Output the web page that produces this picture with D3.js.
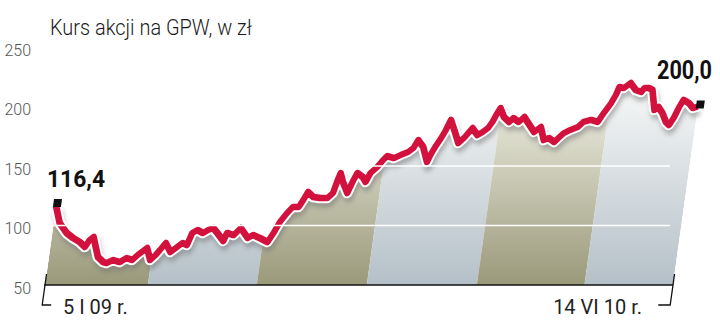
<!DOCTYPE html>
<html>
<head>
<meta charset="utf-8">
<script src="https://cdn.jsdelivr.net/npm/d3@7"></script>
<style>
  body { margin: 0; background: #fff; }
  svg { display: block; font-family: Roboto, 'Open Sans', sans-serif; }
</style>
</head>
<body>
<svg id="chart" width="720" height="325"></svg>
<script>
// GPW share price, 5 Jan 2009 - 14 Jun 2010
const startDate = new Date(2009, 0, 5);
const endDate = new Date(2010, 5, 14);
const dayOffsets = [0, 5, 12, 18, 24, 29, 32, 35, 41, 46,
    49, 54, 60, 65, 70, 74, 77, 81, 85, 89,
    92, 96, 101, 106, 110, 114, 117, 121, 126, 130,
    134, 138, 144, 146, 152, 157, 164, 168, 174, 181,
    185, 189, 194, 198, 203, 206, 209, 214, 220, 226,
    230, 232, 234, 237, 242, 245, 248, 253, 256, 259,
    264, 268, 271, 277, 282, 288, 292, 295, 300, 305,
    307, 310, 314, 317, 320, 324, 329, 333, 336, 339,
    344, 348, 352, 355, 358, 360, 364, 369, 372, 377,
    381, 385, 391, 396, 400, 404, 409, 412, 416, 421,
    427, 431, 437, 443, 447, 452, 455, 457, 461, 466,
    471, 476, 478, 482, 485, 489, 492, 496, 500, 503,
    506, 509, 512, 517, 521, 525];
const prices = [116.4, 102.1, 93.7, 89.5, 86.1, 81.9, 87.8, 90.3, 73.5, 69.3,
    68.5, 71.0, 69.3, 72.7, 71.0, 75.2, 77.7, 81.1, 71.0, 75.2,
    79.4, 85.3, 77.7, 81.9, 85.3, 83.6, 93.7, 96.2, 93.7, 96.2,
    97.9, 93.7, 87.0, 93.7, 92.0, 97.9, 89.5, 92.0, 89.5, 86.1,
    93.7, 102.9, 110.5, 115.5, 115.5, 121.4, 128.2, 124.0, 123.1, 123.1,
    127.3, 136.6, 144.1, 136.6, 127.3, 136.6, 144.1, 140.8, 136.6, 144.1,
    149.2, 155.0, 158.4, 156.7, 159.2, 161.8, 165.1, 171.8, 166.0, 153.4,
    159.2, 166.0, 173.5, 180.3, 188.7, 180.3, 169.3, 173.5, 177.7, 181.9,
    176.0, 178.6, 181.9, 187.0, 194.5, 198.7, 191.2, 187.0, 190.3, 187.0,
    191.2, 186.1, 178.6, 182.8, 171.8, 173.5, 170.2, 173.5, 177.7, 180.3,
    182.8, 187.0, 188.7, 187.0, 194.5, 202.9, 209.7, 216.4, 215.5, 219.7,
    213.9, 212.2, 215.5, 215.5, 213.9, 197.1, 199.6, 194.5, 187.0, 184.5,
    190.3, 198.7, 205.5, 202.9, 198.7, 200.0];
const yTicks = [50, 100, 150, 200, 250];
const gridValues = [100, 150];
const quarterStarts = ['2009-01-05', '2009-04-01', '2009-07-01', '2009-10-01', '2010-01-01', '2010-04-01'];
const quarterTypes = ['olive', 'blue', 'olive', 'blue', 'olive', 'blue'];
const firstLabel = '116,4';
const lastLabel = '200,0';
const startLabel = '5 I 09 r.';
const endLabel = '14 VI 10 r.';

const svg = d3.select('#chart');
const shear = 0.14;

const x = d3.scaleTime().domain([startDate, endDate]).range([45, 673]);
const y = d3.scaleLinear().domain([50, 250]).range([285, 47]);
const base = y(50);
const data = dayOffsets.map((d, i) => ({ date: d3.timeDay.offset(startDate, d), value: prices[i] }));

const defs = svg.append('defs');
const gradients = { olive: ['#9a997a', '#ecece0'], blue: ['#b4c0c8', '#f2f4f4'] };
Object.entries(gradients).forEach(([name, c]) => {
    const g = defs.append('linearGradient').attr('id', 'grad-' + name)
        .attr('gradientUnits', 'userSpaceOnUse')
        .attr('x1', 0).attr('y1', base).attr('x2', 0).attr('y2', 100);
    g.append('stop').attr('offset', 0).attr('stop-color', c[0]);
    g.append('stop').attr('offset', 1).attr('stop-color', c[1]);
});
defs.append('filter').attr('id', 'blur')
    .attr('x', '-10%').attr('y', '-20%').attr('width', '120%').attr('height', '140%')
    .append('feGaussianBlur').attr('stdDeviation', 2.5);

const area = d3.area().x(d => x(d.date)).y0(base).y1(d => y(d.value));
const line = d3.line().x(d => x(d.date)).y(d => y(d.value));

defs.append('clipPath').attr('id', 'area-clip')
    .append('path').attr('d', area(data));

// title
svg.append('text')
    .attr('x', 50).attr('y', 35)
    .attr('font-size', 22).attr('font-weight', 300).attr('fill', '#1a1a1a')
    .attr('textLength', 202).attr('lengthAdjust', 'spacingAndGlyphs')
    .text('Kurs akcji na GPW, w zł');

// y axis labels
const yAxis = svg.append('g')
    .attr('transform', 'translate(31,3)')
    .call(d3.axisLeft(y).tickValues(yTicks).tickSize(0).tickPadding(0));
yAxis.select('.domain').remove();
yAxis.selectAll('text')
    .attr('font-family', 'Roboto, sans-serif')
    .attr('font-size', 16).attr('font-weight', 300).attr('fill', '#555');

// sheared plot
const plot = svg.append('g')
    .attr('transform', `translate(${base * shear},0) skewX(${-Math.atan(shear) * 180 / Math.PI})`);

const bands = quarterStarts.map((s, i) => ({
    from: d3.timeParse('%Y-%m-%d')(s),
    to: i + 1 < quarterStarts.length ? d3.timeParse('%Y-%m-%d')(quarterStarts[i + 1]) : endDate,
    type: quarterTypes[i]
}));
plot.append('g').attr('clip-path', 'url(#area-clip)')
    .selectAll('rect')
    .data(bands)
    .join('rect')
    .attr('x', d => x(d.from))
    .attr('width', d => x(d.to) - x(d.from))
    .attr('y', y(250) - 20)
    .attr('height', base - y(250) + 20)
    .attr('fill', d => `url(#grad-${d.type})`);

// gridlines (straight, not sheared)
svg.append('g').selectAll('line')
    .data(gridValues)
    .join('line')
    .attr('x1', 50).attr('x2', 670)
    .attr('y1', d => y(d)).attr('y2', d => y(d))
    .attr('stroke', '#fff').attr('stroke-width', 1.6);

// baseline and end ticks
plot.append('line')
    .attr('x1', x(startDate) - 1).attr('x2', x(endDate))
    .attr('y1', base).attr('y2', base)
    .attr('stroke', '#111').attr('stroke-width', 1.5);
plot.append('path')
    .attr('d', `M${x(startDate)},${base - 11}V${base + 20}h9`)
    .attr('fill', 'none').attr('stroke', '#111').attr('stroke-width', 1.3);
plot.append('path')
    .attr('d', `M${x(endDate)},${base - 11}V${base + 20}h-12`)
    .attr('fill', 'none').attr('stroke', '#111').attr('stroke-width', 1.3);

// price line: shadow, white halo, red
plot.append('path')
    .attr('d', line(data))
    .attr('transform', 'translate(2,5)')
    .attr('fill', 'none').attr('stroke', '#6e6e6e').attr('stroke-opacity', 0.5)
    .attr('stroke-width', 9).attr('stroke-linejoin', 'round')
    .attr('filter', 'url(#blur)');
plot.append('path')
    .attr('d', line(data))
    .attr('fill', 'none').attr('stroke', '#fff')
    .attr('stroke-width', 10.5).attr('stroke-linejoin', 'round').attr('stroke-linecap', 'round');
plot.append('path')
    .attr('d', line(data))
    .attr('fill', 'none').attr('stroke', '#d2113c')
    .attr('stroke-width', 6.5).attr('stroke-linejoin', 'round');

// end markers
const ends = [data[0], data[data.length - 1]];
plot.selectAll('rect.marker')
    .data(ends)
    .join('rect')
    .attr('class', 'marker')
    .attr('x', (d, i) => x(d.date) - 4 + (i ? 2 : 1))
    .attr('y', (d, i) => y(d.value) - 4 - (i ? 2 : 3))
    .attr('width', 8).attr('height', 8)
    .attr('fill', '#111');

// value labels
svg.append('text')
    .attr('x', 47).attr('y', 187)
    .attr('font-size', 24).attr('font-weight', 700).attr('fill', '#111')
    .attr('textLength', 58).attr('lengthAdjust', 'spacingAndGlyphs')
    .text(firstLabel);
svg.append('text')
    .attr('x', 657).attr('y', 79)
    .attr('font-size', 25).attr('font-weight', 700).attr('fill', '#111')
    .attr('textLength', 55).attr('lengthAdjust', 'spacingAndGlyphs')
    .text(lastLabel);

// date labels
svg.append('text')
    .attr('x', 63).attr('y', 314)
    .attr('font-size', 20).attr('fill', '#222')
    .text(startLabel);
svg.append('text')
    .attr('x', 642).attr('y', 314)
    .attr('text-anchor', 'end')
    .attr('font-size', 20).attr('fill', '#222')
    .text(endLabel);
</script>
</body>
</html>
